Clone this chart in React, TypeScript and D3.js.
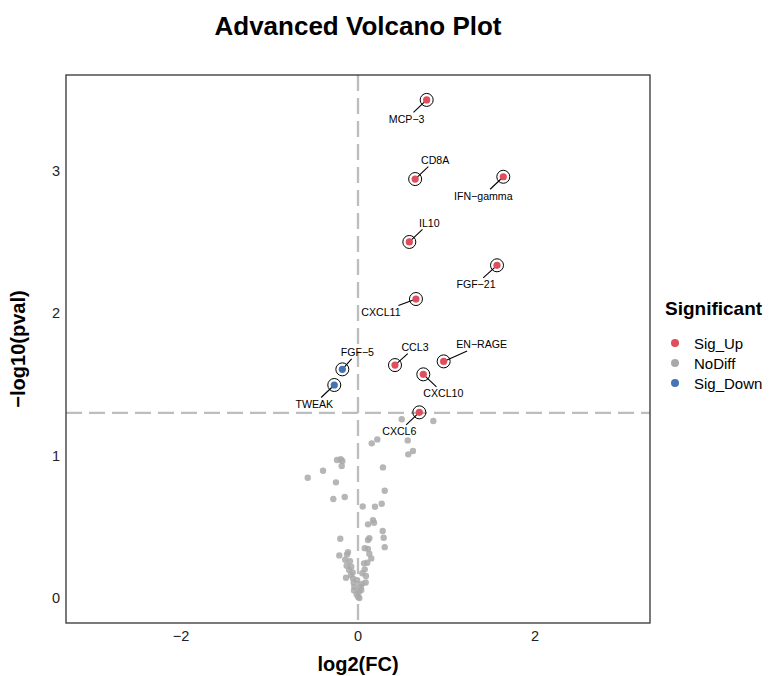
import * as d3 from 'd3';

// significant proteins
const SIG_GENES = ['MCP-3', 'CD8A', 'IFN-gamma', 'IL10', 'FGF-21', 'CXCL11', 'CCL3', 'EN-RAGE', 'CXCL10', 'CXCL6', 'FGF-5', 'TWEAK'];
const SIG_FC = [0.776, 0.646, 1.642, 0.58, 1.571, 0.655, 0.418, 0.968, 0.738, 0.693, -0.177, -0.268];
const SIG_P = [3.5, 2.944, 2.96, 2.502, 2.338, 2.101, 1.637, 1.663, 1.572, 1.305, 1.607, 1.497];
const SIG_GROUP = ['Sig_Up', 'Sig_Up', 'Sig_Up', 'Sig_Up', 'Sig_Up', 'Sig_Up', 'Sig_Up', 'Sig_Up', 'Sig_Up', 'Sig_Up', 'Sig_Down', 'Sig_Down'];

// non-significant proteins
const NS_FC = [
  0.494, 0.851, 0.218, 0.155, 0.562, 0.621, 0.568, -0.237, -0.195, -0.177,
  -0.184, -0.395, -0.568, -0.249, 0.282, 0.302, -0.279, -0.15, 0.053, 0.192,
  0.268, 0.169, 0.113, 0.181, 0.279, -0.2, 0.128, 0.113, 0.29, 0.302,
  0.076, 0.113, -0.113, -0.124, 0.128, -0.211, 0.15, -0.144, 0.105, 0.068,
  -0.128, -0.076, 0.076, -0.06, -0.079, -0.136, 0.049, 0.087, 0.045, -0.056,
  -0.049, -0.042, -0.045, -0.015, 0.003, 0.015, 0.031, 0.037, -0.1, -0.01,
  -0.09, 0.09, 0.01,
];
const NS_P = [
  1.256, 1.244, 1.115, 1.087, 1.108, 1.033, 1.01, 0.97, 0.975, 0.963,
  0.928, 0.895, 0.845, 0.813, 0.918, 0.754, 0.696, 0.71, 0.644, 0.642,
  0.663, 0.548, 0.518, 0.529, 0.471, 0.417, 0.42, 0.408, 0.424, 0.358,
  0.351, 0.346, 0.323, 0.307, 0.311, 0.3, 0.279, 0.269, 0.248, 0.244,
  0.227, 0.22, 0.202, 0.181, 0.162, 0.143, 0.174, 0.11, 0.1, 0.138,
  0.108, 0.079, 0.054, 0.026, 0.007, 0.0, 0.079, 0.056, 0.197, 0.126,
  0.26, 0.155, 0.042,
];

const X_TICKS = [-2, 0, 2];
const Y_TICKS = [0, 1, 2, 3];
const LEGEND = ['Sig_Up', 'NoDiff', 'Sig_Down'];
const P_CUT = -Math.log10(0.05);

const COLORS: Record<string, string> = {
  Sig_Up: '#DF4E5C',
  NoDiff: '#A9A9A9',
  Sig_Down: '#4574B4',
};

// label offsets (px, label centre relative to point), like ggrepel placed them
const LABEL_NUDGE: Record<string, [number, number]> = {
  'MCP-3': [-20, 19],
  CD8A: [20, -19],
  'IFN-gamma': [-20, 19],
  IL10: [20, -19],
  'FGF-21': [-21, 19],
  CXCL11: [-35, 13],
  CCL3: [20, -18],
  'EN-RAGE': [38, -17],
  CXCL10: [20, 19],
  CXCL6: [-20, 19],
  'FGF-5': [15, -17],
  TWEAK: [-20, 19],
};

const W = 769;
const H = 676;
const M = { left: 66, right: 650, top: 75, bottom: 623 };
const FONT = '"Liberation Sans", Arial, Helvetica, sans-serif';
const LABEL_SIZE = 10.6;

const nice = (s: string) => s.replace(/-/g, '\u2212');

// rough text width for Arial-like metrics
function textWidth(s: string, size: number) {
  const wide = 'MWmw';
  const mid = 'ABDEFHKPRSUVXYZ';
  const narrow = 'ijlI1|.,: ';
  let w = 0;
  for (const ch of s) {
    if (wide.includes(ch)) w += 0.85;
    else if (ch === 'C' || ch === 'G' || ch === 'N') w += 0.73;
    else if (mid.includes(ch)) w += 0.68;
    else if (narrow.includes(ch)) w += 0.26;
    else w += 0.556;
  }
  return w * size;
}

// where the line from the point towards the label centre enters the label box
function entry(px: number, py: number, cx: number, cy: number, hw: number, hh: number) {
  const dx = cx - px;
  const dy = cy - py;
  let t = 0;
  if (dx !== 0) {
    const tx = dx > 0 ? (cx - hw - px) / dx : (cx + hw - px) / dx;
    t = Math.max(t, tx);
  }
  if (dy !== 0) {
    const ty = dy > 0 ? (cy - hh - py) / dy : (cy + hh - py) / dy;
    t = Math.max(t, ty);
  }
  return [px + dx * t, py + dy * t];
}

export default function App() {
  const x = d3.scaleLinear().domain([-3.3, 3.3]).range([M.left, M.right]);
  const allP = [...SIG_P, ...NS_P];
  const [pMin, pMax] = d3.extent(allP) as [number, number];
  const pad = (pMax - pMin) * 0.05;
  const y = d3.scaleLinear().domain([pMin - pad, pMax + pad]).range([M.bottom, M.top]);

  const ns = NS_FC.map((fc, i) => ({ fc, p: NS_P[i] }));
  const sig = SIG_GENES.map((g, i) => {
    const px = x(SIG_FC[i]);
    const py = y(SIG_P[i]);
    const [dx, dy] = LABEL_NUDGE[g];
    const label = nice(g);
    const tw = textWidth(label, LABEL_SIZE);
    const cx = px + dx;
    const cy = py + dy;
    const [ex, ey] = entry(px, py, cx, cy, tw / 2 + 1.5, 6.5);
    return { g, label, px, py, cx, cy, ex, ey, group: SIG_GROUP[i] };
  });

  return (
    <svg width={W} height={H} style={{ position: 'absolute', left: 0, top: 0, display: 'block', background: '#fff' }} fontFamily={FONT}>
      <text x={(M.left + M.right) / 2} y={35} textAnchor="middle" fontSize={26} fontWeight="bold" fill="#000">
        Advanced Volcano Plot
      </text>

      {/* threshold lines */}
      <line x1={x(0)} x2={x(0)} y1={M.top} y2={M.bottom} stroke="#BDBDBD" strokeWidth={2.3} strokeDasharray="16,7" />
      <line x1={M.left} x2={M.right} y1={y(P_CUT)} y2={y(P_CUT)} stroke="#BDBDBD" strokeWidth={2.3} strokeDasharray="16,7" />

      {ns.map((d, i) => (
        <circle key={i} cx={x(d.fc)} cy={y(d.p)} r={3.2} fill={COLORS.NoDiff} fillOpacity={0.85} />
      ))}

      {sig.map((d) => (
        <line key={'s' + d.g} x1={d.px} y1={d.py} x2={d.ex} y2={d.ey} stroke="#000" strokeWidth={1.1} />
      ))}
      {sig.map((d) => (
        <g key={'p' + d.g}>
          <circle cx={d.px} cy={d.py} r={6.5} fill="none" stroke="#000" strokeWidth={1} />
          <circle cx={d.px} cy={d.py} r={3.6} fill={COLORS[d.group]} />
        </g>
      ))}
      {sig.map((d) => (
        <text key={'t' + d.g} x={d.cx} y={d.cy} textAnchor="middle" dominantBaseline="central" fontSize={LABEL_SIZE} fill="#000">
          {d.label}
        </text>
      ))}

      <rect x={M.left} y={M.top} width={M.right - M.left} height={M.bottom - M.top} fill="none" stroke="#333" strokeWidth={1.3} />

      {X_TICKS.map((t) => (
        <text key={'x' + t} x={x(t)} y={641} textAnchor="middle" fontSize={14.5} fill="#222">
          {nice(String(t))}
        </text>
      ))}
      {Y_TICKS.map((t) => (
        <text key={'y' + t} x={60} y={y(t)} textAnchor="end" dominantBaseline="central" fontSize={14.5} fill="#222">
          {t}
        </text>
      ))}

      <text x={(M.left + M.right) / 2} y={671} textAnchor="middle" fontSize={20} fontWeight="bold" fill="#000">
        log2(FC)
      </text>
      <text transform={`translate(25,${(M.top + M.bottom) / 2}) rotate(-90)`} textAnchor="middle" fontSize={20} fontWeight="bold" fill="#000">
        {'\u2212log10(pval)'}
      </text>

      <text x={665} y={315} fontSize={19} fontWeight="bold" fill="#000">
        Significant
      </text>
      {LEGEND.map((k, i) => (
        <g key={k} transform={`translate(0,${343 + i * 20})`}>
          <circle cx={675} cy={0} r={4} fill={COLORS[k]} />
          <text x={694} y={0} dominantBaseline="central" fontSize={15} fill="#000">
            {k}
          </text>
        </g>
      ))}
    </svg>
  );
}
